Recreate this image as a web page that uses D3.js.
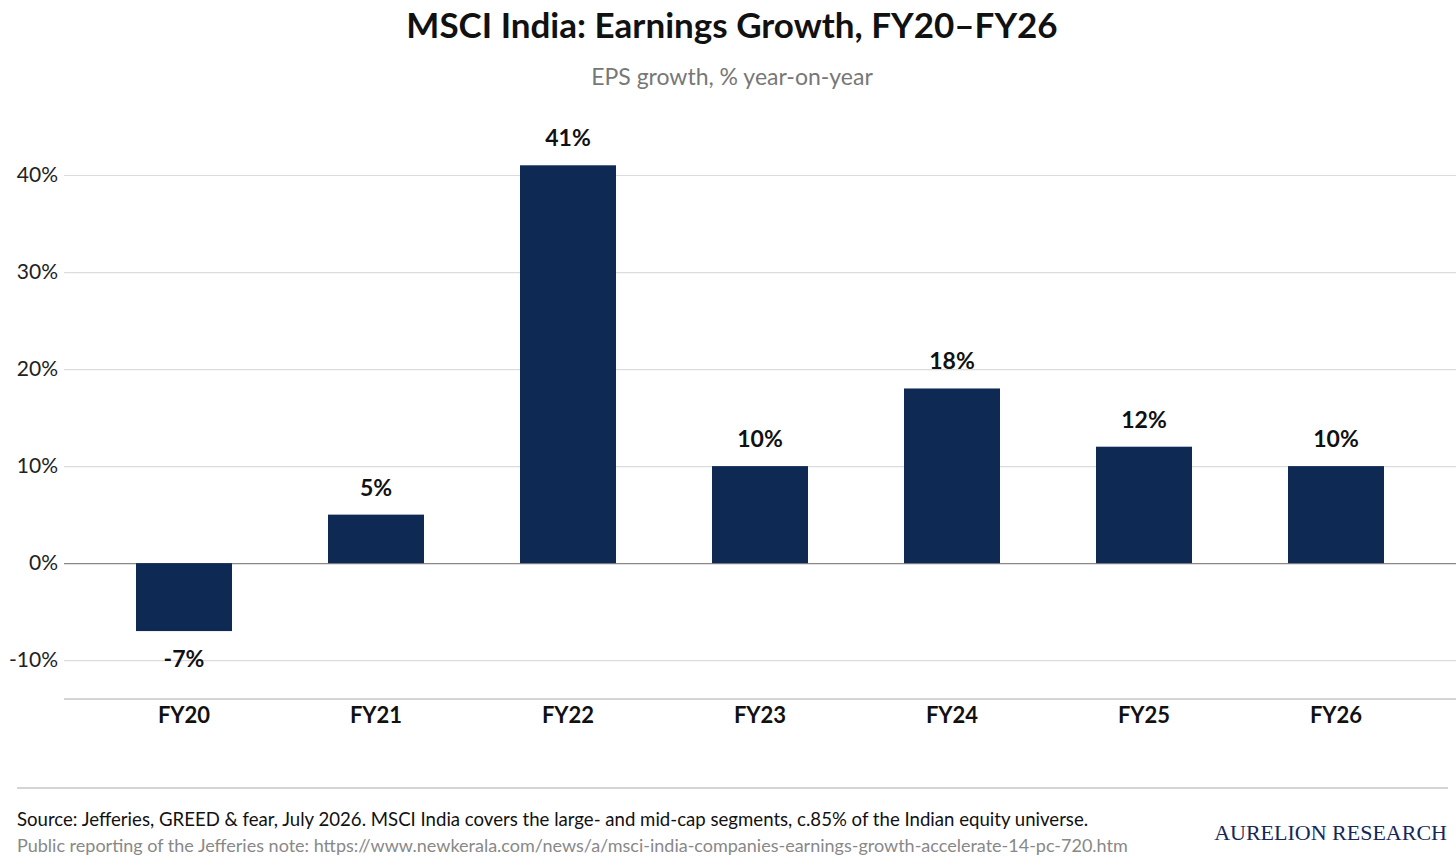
<!DOCTYPE html>
<html>
<head>
<meta charset="utf-8">
<script src="https://cdn.jsdelivr.net/npm/d3@7"></script>
<style>
  body { margin: 0; background: #fff; }
  text { font-family: Lato, "Open Sans", sans-serif; }
</style>
</head>
<body>
<div id="chart"></div>
<script>
// Data
var years = ["FY20", "FY21", "FY22", "FY23", "FY24", "FY25", "FY26"];
var growth = [-7, 5, 41, 10, 18, 12, 10];
var yTicks = [-10, 0, 10, 20, 30, 40];

// Chart Params
var svgWidth = 1456;
var svgHeight = 867;

var svg = d3.select("#chart")
  .append("svg")
  .attr("width", svgWidth)
  .attr("height", svgHeight);

// Scales
var x = d3.scaleBand()
  .domain(years)
  .range([64, 1456])
  .paddingInner(0.5)
  .paddingOuter(0.375);

var y = d3.scaleLinear()
  .domain([-14, 40])
  .range([699, 175]);

// Title + subtitle
svg.append("text")
  .attr("x", 732)
  .attr("y", 38)
  .attr("text-anchor", "middle")
  .style("font-size", "35px")
  .style("font-weight", "bold")
  .style("fill", "#111")
  .text("MSCI India: Earnings Growth, FY20–FY26");

svg.append("text")
  .attr("x", 732)
  .attr("y", 85)
  .attr("text-anchor", "middle")
  .style("font-size", "23px")
  .style("fill", "#777")
  .text("EPS growth, % year-on-year");

// Gridlines + y tick labels
var yAxis = d3.axisLeft(y)
  .tickValues(yTicks)
  .tickSize(-(1456 - 64))
  .tickPadding(6)
  .tickFormat(d => d + "%");

var yG = svg.append("g")
  .attr("transform", "translate(64,0)")
  .call(yAxis);

yG.select(".domain").remove();
yG.selectAll(".tick line")
  .attr("stroke", d => d === 0 ? "#888" : "#dcdcdc")
  .attr("stroke-width", d => d === 0 ? 1.3 : 1.2);
yG.selectAll(".tick text")
  .attr("x", -6)
  .style("font-size", "21px")
  .style("fill", "#222")
  .style("font-family", "Lato, sans-serif");

// Bottom axis line
svg.append("line")
  .attr("x1", 64)
  .attr("x2", 1456)
  .attr("y1", y(-14))
  .attr("y2", y(-14))
  .attr("stroke", "#aaa")
  .attr("stroke-width", 1.2);

// Bars
svg.selectAll("rect.bar")
  .data(growth)
  .enter()
  .append("rect")
  .attr("class", "bar")
  .attr("x", (d, i) => x(years[i]))
  .attr("width", x.bandwidth())
  .attr("y", d => y(Math.max(0, d)))
  .attr("height", d => Math.abs(y(d) - y(0)))
  .attr("fill", "#0e2954");

// Value labels
svg.selectAll("text.val")
  .data(growth)
  .enter()
  .append("text")
  .attr("class", "val")
  .attr("x", (d, i) => x(years[i]) + x.bandwidth() / 2)
  .attr("y", d => d >= 0 ? y(d) - 19 : y(d) + 36)
  .attr("text-anchor", "middle")
  .style("font-size", "23px")
  .style("font-weight", "bold")
  .style("fill", "#111")
  .text(d => d + "%");

// Category labels
svg.selectAll("text.cat")
  .data(years)
  .enter()
  .append("text")
  .attr("class", "cat")
  .attr("x", d => x(d) + x.bandwidth() / 2)
  .attr("y", 723)
  .attr("text-anchor", "middle")
  .style("font-size", "22px")
  .style("font-weight", "bold")
  .style("fill", "#111")
  .text(d => d);

// Footer
svg.append("line")
  .attr("x1", 17)
  .attr("x2", 1448)
  .attr("y1", 788)
  .attr("y2", 788)
  .attr("stroke", "#aaa")
  .attr("stroke-width", 1.2);

svg.append("text")
  .attr("x", 17)
  .attr("y", 826)
  .style("font-size", "18.6px")
  .style("fill", "#111")
  .text("Source: Jefferies, GREED & fear, July 2026. MSCI India covers the large- and mid-cap segments, c.85% of the Indian equity universe.");

svg.append("text")
  .attr("x", 17)
  .attr("y", 852)
  .style("font-size", "18px")
  .style("fill", "#888")
  .text("Public reporting of the Jefferies note: https://www.newkerala.com/news/a/msci-india-companies-earnings-growth-accelerate-14-pc-720.htm");

svg.append("text")
  .attr("x", 1447)
  .attr("y", 840)
  .attr("text-anchor", "end")
  .style("font-family", "'Liberation Serif', 'DejaVu Serif', serif")
  .style("font-size", "22px")
  .style("fill", "#14285a")
  .text("AURELION RESEARCH");
</script>
</body>
</html>
